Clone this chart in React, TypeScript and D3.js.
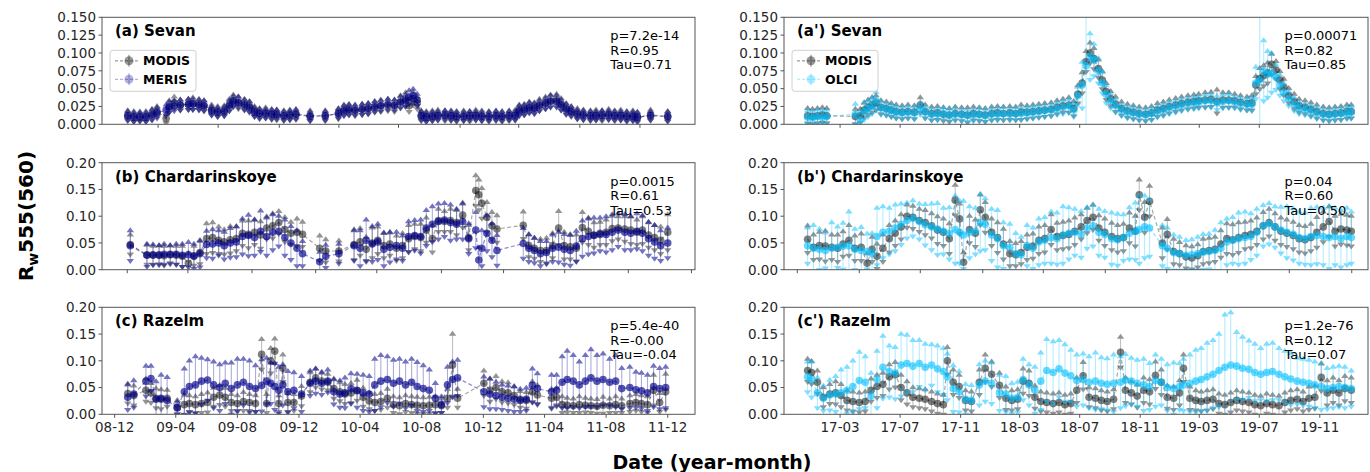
import React from "react";
import * as d3 from "d3";

type Row = [string, number, number, number, number]; // date, MODIS, other sensor, MODIS err, other err (x1e-3)

const sevanLeft: Row[] = [
["2008-12-27",12,12,5,4],["2009-01-08",11,10,5,4],["2009-01-20",10,11,4,4],["2009-02-01",11,10,5,4],
["2009-02-13",14,13,5,5],["2009-02-23",18,16,5,5],["2009-03-13",8,20,4,5],["2009-03-19",25,24,6,5],
["2009-03-29",30,26,6,5],["2009-04-10",27,27,5,5],["2009-04-26",28,28,5,5],["2009-05-05",29,28,6,5],
["2009-05-17",28,27,5,5],["2009-05-27",26,26,5,5],["2009-06-11",20,19,5,4],["2009-06-23",18,17,5,4],
["2009-07-06",19,18,5,4],["2009-07-16",27,26,6,5],["2009-07-24",33,32,6,5],["2009-08-03",30,31,6,5],
["2009-08-15",28,27,5,5],["2009-08-25",25,24,5,5],["2009-09-04",18,17,5,4],["2009-09-14",15,15,5,4],
["2009-09-26",16,15,5,4],["2009-10-08",14,14,5,4],["2009-10-18",13,14,5,4],["2009-11-01",12,12,5,4],
["2009-11-13",13,13,5,4],["2009-11-25",14,14,5,4],["2009-12-23",12,11,5,4],["2010-01-22",12,12,5,4],
["2010-02-17",15,15,5,4],["2010-02-28",20,19,5,5],["2010-03-10",21,20,5,5],["2010-03-22",19,20,5,5],
["2010-04-05",21,21,5,5],["2010-04-17",22,22,5,5],["2010-04-30",24,25,5,5],["2010-05-12",26,26,6,5],
["2010-05-26",27,28,6,5],["2010-06-08",26,27,6,5],["2010-06-20",32,31,6,6],["2010-06-30",35,33,7,6],
["2010-07-07",26,38,6,7],["2010-07-15",36,40,7,7],["2010-07-23",30,34,6,6],["2010-07-31",12,12,5,4],
["2010-08-10",11,10,5,4],["2010-08-22",12,11,5,4],["2010-09-02",13,12,5,4],["2010-09-16",12,13,5,4],
["2010-09-28",12,12,5,4],["2010-10-09",11,11,5,4],["2010-10-23",12,11,5,4],["2010-11-04",11,12,5,4],
["2010-11-16",13,12,5,4],["2010-11-28",12,11,5,4],["2010-12-12",11,11,5,4],["2010-12-26",12,12,5,4],
["2011-01-07",11,11,5,4],["2011-01-21",12,12,5,4],["2011-02-02",13,12,5,4],["2011-02-10",20,19,5,5],
["2011-02-20",21,20,5,5],["2011-03-02",24,23,5,5],["2011-03-12",23,22,5,5],["2011-03-22",27,26,6,5],
["2011-04-03",30,29,6,5],["2011-04-13",33,32,6,6],["2011-04-25",34,32,6,6],["2011-05-04",28,27,6,5],
["2011-05-14",22,21,5,5],["2011-05-24",18,18,5,4],["2011-06-05",15,14,5,4],["2011-06-17",13,13,5,4],
["2011-07-01",12,12,5,4],["2011-07-12",13,12,5,4],["2011-07-24",12,13,5,4],["2011-08-06",14,13,5,4],
["2011-08-18",12,12,5,4],["2011-08-30",13,12,5,4],["2011-09-11",11,11,5,4],["2011-09-23",12,11,5,4],
["2011-10-02",10,10,5,4],["2011-10-28",13,12,5,4],["2011-12-01",11,11,5,4]
];

const chardLeft: Row[] = [
["2009-01-01",47,45,15,25],["2009-02-03",28,27,15,18],["2009-02-15",27,28,14,16],["2009-02-27",28,27,14,15],
["2009-03-09",26,29,15,16],["2009-03-21",29,28,13,14],["2009-04-02",27,29,14,16],["2009-04-14",25,27,16,18],
["2009-04-26",12,28,16,20],["2009-05-07",26,25,15,20],["2009-05-19",32,30,18,22],["2009-06-01",58,47,25,22],
["2009-06-13",60,48,25,24],["2009-06-25",55,50,22,20],["2009-07-06",52,45,20,22],["2009-07-18",56,50,22,24],
["2009-07-30",58,52,20,25],["2009-08-11",68,62,20,30],["2009-08-23",66,64,22,35],["2009-09-04",70,60,20,30],
["2009-09-16",65,72,22,35],["2009-09-28",78,62,18,32],["2009-10-10",82,70,20,30],["2009-10-22",88,72,18,25],
["2009-11-03",75,60,20,30],["2009-11-15",68,50,18,28],["2009-11-27",70,40,22,30],["2009-12-08",66,30,20,20],
["2010-01-11",40,15,20,15],["2010-01-23",35,25,18,18],["2010-02-18",35,30,16,15],["2010-03-20",47,45,25,25],
["2010-04-01",52,40,22,30],["2010-04-13",38,55,20,35],["2010-04-25",50,48,25,30],["2010-05-06",55,52,22,30],
["2010-05-18",45,38,20,28],["2010-05-30",48,42,18,25],["2010-06-12",40,45,20,22],["2010-06-24",45,40,20,20],
["2010-07-06",58,62,22,25],["2010-07-18",62,64,20,25],["2010-07-30",60,62,22,28],["2010-08-10",74,78,20,30],
["2010-08-22",58,85,22,30],["2010-09-03",92,90,18,30],["2010-09-15",90,93,16,28],["2010-09-27",92,88,18,30],
["2010-10-09",88,85,20,25],["2010-10-21",102,90,20,30],["2010-11-02",60,58,20,25],["2010-11-16",148,74,25,30],
["2010-11-22",140,18,25,20],["2010-11-28",124,40,25,30],["2010-12-08",98,68,25,30],["2010-12-18",82,55,22,28],
["2010-12-28",76,36,22,25],["2011-02-18",83,49,22,25],["2011-03-01",45,40,18,22],["2011-03-12",40,36,16,20],
["2011-03-24",36,30,18,20],["2011-04-05",36,32,20,18],["2011-04-17",45,40,20,22],["2011-04-29",78,42,28,25],
["2011-05-10",45,38,22,25],["2011-05-22",43,36,20,25],["2011-06-03",40,44,22,25],["2011-06-15",79,58,25,30],
["2011-06-27",72,62,22,30],["2011-07-08",65,64,20,30],["2011-07-20",68,66,18,28],["2011-08-01",70,66,20,30],
["2011-08-13",77,70,20,30],["2011-08-25",78,74,18,28],["2011-09-07",76,70,20,30],["2011-09-19",74,68,22,28],
["2011-10-01",70,72,20,30],["2011-10-12",74,68,22,30],["2011-10-24",65,58,20,28],["2011-11-05",60,52,20,28],
["2011-11-17",55,45,22,25],["2011-12-01",70,50,30,25]
];

const razelmLeft: Row[] = [
["2008-12-27",39,32,15,20],["2009-01-08",35,38,15,22],["2009-02-01",45,62,18,25],["2009-02-11",40,67,15,20],
["2009-02-21",30,28,15,30],["2009-03-03",28,30,15,40],["2009-03-15",30,26,12,40],["2009-04-04",13,12,10,8],
["2009-04-18",18,42,15,40],["2009-04-28",20,52,12,45],["2009-05-10",18,55,12,50],["2009-05-22",20,62,14,40],
["2009-06-03",22,64,15,35],["2009-06-15",32,55,14,40],["2009-06-27",36,50,15,40],["2009-07-08",32,58,14,35],
["2009-07-20",22,48,12,45],["2009-08-01",20,55,12,45],["2009-08-13",24,60,14,40],["2009-08-25",22,52,12,45],
["2009-09-06",20,48,12,40],["2009-09-18",112,54,25,45],["2009-09-28",20,62,14,40],["2009-10-06",100,58,20,35],
["2009-10-14",118,52,20,40],["2009-10-22",20,45,12,40],["2009-10-30",86,55,22,35],["2009-11-09",22,42,14,35],
["2009-11-21",22,45,12,30],["2009-12-06",34,38,15,30],["2009-12-23",60,58,15,20],["2010-01-03",68,62,14,20],
["2010-01-15",62,58,12,18],["2010-01-27",60,62,12,18],["2010-02-08",48,42,15,20],["2010-02-20",42,38,14,22],
["2010-03-02",38,40,15,25],["2010-03-14",40,48,15,25],["2010-03-26",45,44,16,28],["2010-04-07",32,40,14,30],
["2010-04-19",25,38,12,30],["2010-04-30",22,55,12,45],["2010-05-12",24,62,12,45],["2010-05-25",30,65,14,40],
["2010-06-06",18,58,12,40],["2010-06-18",16,62,12,38],["2010-06-30",20,55,12,40],["2010-07-12",18,60,12,40],
["2010-07-23",17,52,12,42],["2010-08-04",16,48,12,40],["2010-08-16",17,45,12,35],["2010-08-28",18,30,12,25],
["2010-09-09",16,18,10,12],["2010-09-21",30,55,14,30],["2010-10-01",92,65,55,30],["2010-10-11",30,68,14,30],
["2010-12-02",58,42,20,25],["2010-12-14",45,38,18,25],["2010-12-26",50,35,18,22],["2011-01-07",42,32,16,20],
["2011-01-19",40,30,16,20],["2011-01-31",35,28,14,20],["2011-02-12",28,26,12,18],["2011-02-24",26,28,12,18],
["2011-03-08",42,54,16,28],["2011-03-18",36,48,15,25],["2011-04-15",30,42,14,28],["2011-04-25",32,45,14,25],
["2011-05-06",18,60,12,45],["2011-05-16",17,65,10,50],["2011-05-28",16,62,10,45],["2011-06-09",18,55,12,40],
["2011-06-21",17,62,10,45],["2011-07-02",16,68,10,50],["2011-07-14",15,62,10,45],["2011-07-26",17,65,12,45],
["2011-08-08",16,60,10,40],["2011-08-20",18,62,12,45],["2011-09-01",16,48,10,35],["2011-09-17",20,50,12,35],
["2011-09-29",22,46,12,30],["2011-10-10",20,44,12,30],["2011-10-22",18,40,12,30],["2011-11-03",45,52,25,35],
["2011-11-15",22,48,14,35],["2011-11-27",42,50,30,35]
];

const sevanRight: Row[] = [
["2016-12-25",12,10,8,7],["2017-01-04",11,9,8,7],["2017-01-14",12,11,8,7],["2017-01-24",13,10,8,7],
["2017-02-02",12,11,8,7],["2017-04-01",11,14,8,12],["2017-04-11",12,6,7,9],["2017-04-19",20,18,8,9],
["2017-04-27",24,22,8,9],["2017-05-05",27,26,8,9],["2017-05-13",30,33,8,10],["2017-05-23",24,23,7,7],
["2017-06-03",22,21,7,6],["2017-06-13",20,19,7,6],["2017-06-23",18,17,7,6],["2017-07-05",17,16,7,6],
["2017-07-17",18,17,7,6],["2017-07-30",17,16,7,6],["2017-08-11",27,22,8,6],["2017-08-21",18,17,7,6],
["2017-09-03",15,14,7,6],["2017-09-15",16,14,7,6],["2017-09-27",14,15,7,6],["2017-10-09",13,13,7,6],
["2017-10-21",15,14,7,6],["2017-11-03",14,13,7,6],["2017-11-15",13,12,8,6],["2017-11-27",15,13,7,6],
["2017-12-09",14,14,7,6],["2017-12-21",13,12,7,6],["2018-01-03",15,14,7,6],["2018-01-15",16,14,7,6],
["2018-01-27",15,15,7,6],["2018-02-09",16,14,7,6],["2018-02-21",15,15,7,6],["2018-03-04",17,15,8,6],
["2018-03-16",17,16,7,6],["2018-03-28",18,17,7,6],["2018-04-09",19,18,7,6],["2018-04-21",20,19,7,6],
["2018-05-04",21,20,7,6],["2018-05-16",24,22,7,6],["2018-05-28",26,24,7,7],["2018-06-09",27,26,8,7],
["2018-06-19",22,20,8,7],["2018-06-27",42,40,10,10],["2018-07-06",58,55,12,30],["2018-07-14",88,82,12,90],
["2018-07-22",100,95,12,30],["2018-07-30",92,90,12,20],["2018-08-08",78,75,10,15],["2018-08-16",62,58,10,12],
["2018-08-24",46,42,9,10],["2018-09-02",36,33,8,8],["2018-09-12",28,26,8,7],["2018-09-24",22,20,7,6],
["2018-10-06",19,17,7,6],["2018-10-18",17,16,7,6],["2018-10-30",15,14,7,6],["2018-11-12",14,13,7,6],
["2018-11-24",16,15,7,6],["2018-12-06",20,18,7,6],["2018-12-18",22,20,7,6],["2018-12-30",25,23,7,6],
["2019-01-12",27,25,7,6],["2019-01-24",29,27,7,6],["2019-02-06",31,29,7,6],["2019-02-18",32,30,7,6],
["2019-02-28",33,31,7,6],["2019-03-13",34,33,8,6],["2019-03-25",35,33,8,7],["2019-04-06",32,30,14,7],
["2019-04-18",34,32,8,7],["2019-04-30",34,33,8,7],["2019-05-12",33,31,7,6],["2019-05-24",31,29,7,6],
["2019-06-06",29,28,7,6],["2019-06-16",30,28,8,7],["2019-06-24",55,58,10,20],["2019-07-02",64,62,12,90],
["2019-07-10",68,75,12,40],["2019-07-18",72,70,12,30],["2019-07-26",84,72,12,25],["2019-08-04",76,66,10,15],
["2019-08-12",62,55,10,12],["2019-08-20",52,45,9,10],["2019-08-30",40,36,8,8],["2019-09-10",32,28,8,7],
["2019-09-20",26,23,7,6],["2019-10-02",24,21,7,6],["2019-10-14",21,19,7,6],["2019-10-26",18,16,7,6],
["2019-11-08",15,14,7,6],["2019-11-20",14,13,7,6],["2019-12-02",15,14,7,6],["2019-12-14",16,15,7,6],
["2019-12-26",18,16,7,6],["2020-01-04",18,17,7,6]
];

const chardRight: Row[] = [
["2016-12-25",57,45,22,30],["2017-01-06",42,40,20,40],["2017-01-18",45,38,22,35],["2017-01-30",44,36,25,30],
["2017-02-12",42,40,20,45],["2017-02-24",40,42,22,35],["2017-03-07",48,44,20,40],["2017-03-19",55,45,25,60],
["2017-03-31",40,38,20,35],["2017-04-13",42,36,22,40],["2017-04-25",12,34,15,30],["2017-05-05",38,30,20,35],
["2017-05-15",25,62,20,50],["2017-05-27",40,70,22,45],["2017-06-09",58,72,22,40],["2017-06-21",68,78,20,40],
["2017-07-03",80,85,20,35],["2017-07-15",100,92,18,30],["2017-07-27",98,96,18,30],["2017-08-09",92,90,18,30],
["2017-08-21",88,84,20,35],["2017-09-03",82,80,20,40],["2017-09-15",74,76,22,45],["2017-09-27",70,72,22,40],
["2017-10-09",58,68,25,45],["2017-10-21",130,75,25,60],["2017-10-30",95,70,25,55],["2017-11-07",14,65,15,60],
["2017-11-19",75,70,22,45],["2017-12-01",68,72,22,40],["2017-12-11",112,88,25,50],["2017-12-21",98,85,25,45],
["2018-01-03",70,65,22,45],["2018-01-15",60,58,25,50],["2018-01-27",48,45,25,40],["2018-02-09",30,42,20,40],
["2018-02-21",28,30,18,35],["2018-03-04",32,28,18,30],["2018-03-16",42,45,20,35],["2018-03-28",44,40,20,35],
["2018-04-09",55,52,22,40],["2018-04-21",58,55,22,40],["2018-05-04",75,60,25,45],["2018-05-16",62,58,22,45],
["2018-05-28",64,65,22,50],["2018-06-09",66,68,22,45],["2018-06-21",72,70,22,40],["2018-07-04",80,66,20,40],
["2018-07-16",92,78,20,35],["2018-07-28",98,82,20,35],["2018-08-09",78,70,20,40],["2018-08-21",70,66,22,40],
["2018-09-04",62,58,22,45],["2018-09-16",58,56,22,45],["2018-09-28",60,60,22,40],["2018-10-10",78,68,25,45],
["2018-10-22",72,72,25,50],["2018-10-30",140,75,25,60],["2018-11-10",98,80,25,55],["2018-11-20",128,78,25,50],
["2018-12-16",50,45,25,35],["2018-12-26",66,40,25,35],["2019-01-08",34,32,20,30],["2019-01-20",30,30,18,28],
["2019-02-02",24,27,18,25],["2019-02-14",22,28,18,25],["2019-02-26",26,30,18,28],["2019-03-09",34,33,20,30],
["2019-03-21",36,34,20,30],["2019-04-02",38,36,20,35],["2019-04-14",48,40,22,45],["2019-04-26",58,52,25,40],
["2019-05-08",56,55,25,40],["2019-05-20",60,58,25,45],["2019-06-02",64,60,22,45],["2019-06-14",66,62,22,40],
["2019-06-26",72,70,22,40],["2019-07-09",82,82,22,35],["2019-07-21",88,86,22,35],["2019-08-02",80,80,22,35],
["2019-08-14",72,74,22,40],["2019-08-26",68,70,22,45],["2019-09-08",64,66,22,45],["2019-09-20",58,60,22,45],
["2019-10-02",56,58,22,45],["2019-10-14",60,62,22,50],["2019-10-26",70,64,25,50],["2019-11-08",80,62,25,50],
["2019-11-20",90,60,25,55],["2019-12-02",72,62,25,50],["2019-12-14",76,58,25,50],["2019-12-26",74,62,25,50],
["2020-01-04",72,60,25,45]
];

const razelmRight: Row[] = [
["2016-12-25",82,70,18,25],["2017-01-02",78,65,18,30],["2017-01-14",60,40,18,25],["2017-01-26",32,30,15,20],
["2017-02-08",38,36,15,25],["2017-02-20",40,38,18,30],["2017-03-03",35,40,18,40],["2017-03-15",26,45,15,40],
["2017-03-27",24,52,15,45],["2017-04-09",22,63,15,50],["2017-04-21",24,60,15,45],["2017-05-03",45,34,18,40],
["2017-05-15",52,65,18,50],["2017-05-27",56,88,18,55],["2017-06-09",70,80,20,45],["2017-06-21",74,77,20,45],
["2017-07-03",50,92,20,55],["2017-07-15",40,95,18,50],["2017-07-27",32,90,15,45],["2017-08-09",30,95,15,40],
["2017-08-21",28,88,15,40],["2017-09-03",24,92,15,35],["2017-09-15",20,85,15,40],["2017-09-27",18,80,15,40],
["2017-10-05",100,70,22,40],["2017-10-17",60,48,20,40],["2017-10-29",52,42,18,35],["2017-11-11",26,28,15,25],
["2017-11-23",24,26,15,25],["2017-12-09",60,55,20,35],["2017-12-21",86,62,22,35],["2018-01-03",75,58,20,35],
["2018-01-19",54,40,20,30],["2018-02-01",30,38,18,30],["2018-02-13",26,30,15,25],["2018-02-25",28,32,15,25],
["2018-03-08",62,65,20,35],["2018-03-20",58,55,20,35],["2018-04-01",32,45,18,40],["2018-04-13",24,62,15,50],
["2018-04-25",22,82,15,55],["2018-05-08",20,78,15,55],["2018-05-20",22,85,15,50],["2018-06-01",18,77,15,50],
["2018-06-13",20,72,15,45],["2018-06-25",45,63,20,45],["2018-07-08",72,65,22,45],["2018-07-20",32,60,15,45],
["2018-08-02",30,62,15,50],["2018-08-14",26,58,15,45],["2018-08-26",24,56,15,45],["2018-09-08",28,58,15,50],
["2018-09-22",116,60,25,45],["2018-10-02",45,64,20,45],["2018-10-14",40,62,18,40],["2018-10-26",34,58,18,40],
["2018-11-08",45,55,20,45],["2018-11-20",42,52,20,40],["2018-12-02",73,63,22,45],["2018-12-14",60,60,20,40],
["2018-12-26",32,50,18,40],["2019-01-08",30,48,18,45],["2019-01-20",40,52,20,40],["2019-01-28",86,55,22,45],
["2019-02-10",30,58,18,50],["2019-02-22",26,62,15,55],["2019-03-05",24,65,15,55],["2019-03-17",26,70,15,60],
["2019-03-29",28,75,15,60],["2019-04-10",20,82,15,65],["2019-04-22",18,88,15,95],["2019-05-04",22,92,15,95],
["2019-05-16",26,90,15,60],["2019-05-28",24,86,15,55],["2019-06-10",22,84,15,50],["2019-06-22",18,78,15,50],
["2019-07-04",16,75,15,45],["2019-07-16",20,78,15,50],["2019-07-28",18,80,15,50],["2019-08-10",16,75,15,45],
["2019-08-22",22,70,15,45],["2019-09-03",26,66,15,45],["2019-09-16",28,62,15,40],["2019-09-28",24,60,15,40],
["2019-10-10",30,58,18,40],["2019-10-22",32,55,18,40],["2019-11-04",69,52,22,40],["2019-11-16",40,48,20,35],
["2019-11-28",45,50,20,35],["2019-12-10",40,52,20,35],["2019-12-22",48,50,20,35],["2020-01-04",45,48,20,30]
];

const leftLabelTicks = ["2008-12-01","2009-04-01","2009-08-01","2009-12-01","2010-04-01","2010-08-01","2010-12-01","2011-04-01","2011-08-01","2011-12-01"];
const leftTicksA = ["2009-02-25","2009-06-24","2009-10-23","2010-02-18","2010-06-16","2010-10-16","2011-02-09","2011-06-10","2011-10-07"];
const leftTicksB = ["2008-12-26","2009-04-25","2009-08-30","2010-01-03","2010-05-04","2010-09-09","2011-01-10","2011-05-11","2011-09-14","2012-01-17"];
const rightLabelTicks = ["2017-03-01","2017-07-01","2017-11-01","2018-03-01","2018-07-01","2018-11-01","2019-03-01","2019-07-01","2019-11-01"];
const rightTicksB = ["2016-12-04","2017-04-09","2017-08-11","2017-12-16","2018-04-18","2018-08-22","2018-12-25","2019-04-27","2019-08-31","2020-01-05"];

const yTicksSevan = [0, 0.025, 0.05, 0.075, 0.1, 0.125, 0.15];
const yTicksOther = [0, 0.05, 0.1, 0.15, 0.2];

const statsA = ["p=7.2e-14", "R=0.95", "Tau=0.71"];
const statsB = ["p=0.0015", "R=0.61", "Tau=0.53"];
const statsC = ["p=5.4e-40", "R=-0.00", "Tau=-0.04"];
const statsA2 = ["p=0.00071", "R=0.82", "Tau=0.85"];
const statsB2 = ["p=0.04", "R=0.60", "Tau=0.50"];
const statsC2 = ["p=1.2e-76", "R=0.12", "Tau=0.07"];

const COLORS: Record<string, string> = { MODIS: "#000000", MERIS: "#00008b", OLCI: "#00bfff" };
const ALPHA: Record<string, number> = { MODIS: 0.5, MERIS: 0.65, OLCI: 0.6 };

const parseDate = d3.timeParse("%Y-%m-%d") as (s: string) => Date;
const fmtTick = d3.timeFormat("%y-%m");
const FONT = "DejaVu Sans, Verdana, sans-serif";

const COLS = [
  { x0: 102, x1: 695, domain: ["2008-11-06", "2012-01-24"] },
  { x0: 784, x1: 1368, domain: ["2016-11-07", "2020-02-07"] },
];
const TOPS = [17.3, 162.7, 307.3];
const H = 107;

type PanelCfg = {
  key: string; title: string; rows: Row[]; col: number; row: number; yMax: number;
  yTicks: number[]; ticks: string[]; showLabels: boolean; stats: string[]; other: string;
};

const panels: PanelCfg[] = [
  { key: "a", title: "(a) Sevan", rows: sevanLeft, col: 0, row: 0, yMax: 0.15, yTicks: yTicksSevan, ticks: leftTicksA, showLabels: false, stats: statsA, other: "MERIS" },
  { key: "b", title: "(b) Chardarinskoye", rows: chardLeft, col: 0, row: 1, yMax: 0.2, yTicks: yTicksOther, ticks: leftTicksB, showLabels: false, stats: statsB, other: "MERIS" },
  { key: "c", title: "(c) Razelm", rows: razelmLeft, col: 0, row: 2, yMax: 0.2, yTicks: yTicksOther, ticks: leftLabelTicks, showLabels: true, stats: statsC, other: "MERIS" },
  { key: "a2", title: "(a') Sevan", rows: sevanRight, col: 1, row: 0, yMax: 0.15, yTicks: yTicksSevan, ticks: rightLabelTicks, showLabels: false, stats: statsA2, other: "OLCI" },
  { key: "b2", title: "(b') Chardarinskoye", rows: chardRight, col: 1, row: 1, yMax: 0.2, yTicks: yTicksOther, ticks: rightTicksB, showLabels: false, stats: statsB2, other: "OLCI" },
  { key: "c2", title: "(c') Razelm", rows: razelmRight, col: 1, row: 2, yMax: 0.2, yTicks: yTicksOther, ticks: rightLabelTicks, showLabels: true, stats: statsC2, other: "OLCI" },
];

function Series({ rows, vi, ei, x, y, name }: { rows: Row[]; vi: number; ei: number; x: any; y: any; name: string }) {
  const color = COLORS[name];
  const a = ALPHA[name];
  const pts = rows.map((r) => ({ t: parseDate(r[0]), v: r[vi] / 1000, e: r[ei] / 1000 }));
  const line = d3.line<{ t: Date; v: number }>().x((d) => x(d.t)).y((d) => y(d.v));
  return (
    <g>
      <path d={line(pts) || ""} fill="none" stroke={color} strokeOpacity={a * 0.7} strokeWidth={1.2} strokeDasharray="4,2.5" />
      {pts.map((p, i) => {
        const cx = x(p.t), cy = y(p.v), yt = y(p.v + p.e), yb = y(p.v - p.e);
        return (
          <g key={i}>
            <line x1={cx} x2={cx} y1={yt} y2={yb} stroke={color} strokeOpacity={a * 0.5} strokeWidth={1.1} />
            <path d={`M${cx - 3.7},${yt}L${cx + 3.7},${yt}L${cx},${yt - 5}Z`} fill={color} fillOpacity={a * 0.85} />
            <path d={`M${cx - 3.7},${yb}L${cx + 3.7},${yb}L${cx},${yb + 5}Z`} fill={color} fillOpacity={a * 0.85} />
            <circle cx={cx} cy={cy} r={3.8} fill={color} fillOpacity={a} />
          </g>
        );
      })}
    </g>
  );
}

function Legend({ x0, y0, other }: { x0: number; y0: number; other: string }) {
  const items = ["MODIS", other];
  return (
    <g>
      <rect x={x0} y={y0} width={86} height={41} rx={3} fill="#ffffff" fillOpacity={0.8} stroke="#d0d0d0" strokeWidth={1} />
      {items.map((n, i) => {
        const cy = y0 + 10.5 + i * 18.5;
        const c = COLORS[n];
        const a = n === "MODIS" ? 0.4 : 0.3;
        return (
          <g key={n}>
            <line x1={x0 + 5} x2={x0 + 28} y1={cy} y2={cy} stroke={c} strokeOpacity={a} strokeWidth={1.2} strokeDasharray="3,2" />
            <line x1={x0 + 19} x2={x0 + 19} y1={cy - 6} y2={cy + 6} stroke={c} strokeOpacity={a} strokeWidth={1.2} />
            <circle cx={x0 + 19} cy={cy} r={4.5} fill={c} fillOpacity={a} />
            <text x={x0 + 33} y={cy + 4.5} fontFamily={FONT} fontSize={12.5} fontWeight="bold" fill="#000">{n}</text>
          </g>
        );
      })}
    </g>
  );
}

function Panel({ cfg }: { cfg: PanelCfg }) {
  const g = COLS[cfg.col];
  const top = TOPS[cfg.row];
  const bottom = top + H;
  const x = d3.scaleTime().domain(g.domain.map(parseDate)).range([g.x0, g.x1]);
  const y = d3.scaleLinear().domain([0, cfg.yMax]).range([bottom, top]);
  const yFmt = d3.format(cfg.yMax < 0.18 ? ".3f" : ".2f");
  const clipId = `clip-${cfg.key}`;
  const statX = g.x0 + 0.857 * (g.x1 - g.x0);
  return (
    <g>
      <defs>
        <clipPath id={clipId}>
          <rect x={g.x0} y={top} width={g.x1 - g.x0} height={H} />
        </clipPath>
      </defs>
      <g clipPath={`url(#${clipId})`}>
        <Series rows={cfg.rows} vi={1} ei={3} x={x} y={y} name="MODIS" />
        <Series rows={cfg.rows} vi={2} ei={4} x={x} y={y} name={cfg.other} />
      </g>
      <rect x={g.x0} y={top} width={g.x1 - g.x0} height={H} fill="none" stroke="#555" strokeWidth={1} />
      {cfg.yTicks.map((t) => (
        <g key={t}>
          <line x1={g.x0 - 3.5} x2={g.x0} y1={y(t)} y2={y(t)} stroke="#555" strokeWidth={1} />
          <text x={g.x0 - 6} y={y(t) + 4.8} textAnchor="end" fontFamily={FONT} fontSize={13.5} fill="#262626">{yFmt(t)}</text>
        </g>
      ))}
      {cfg.ticks.map((s) => {
        const tx = x(parseDate(s));
        return (
          <g key={s}>
            <line x1={tx} x2={tx} y1={bottom} y2={bottom + 3.5} stroke="#555" strokeWidth={1} />
            {cfg.showLabels && (
              <text x={tx} y={bottom + 17.4} textAnchor="middle" fontFamily={FONT} fontSize={13.5} fill="#262626">{fmtTick(parseDate(s))}</text>
            )}
          </g>
        );
      })}
      <text x={g.x0 + 13} y={top + 19} fontFamily={FONT} fontSize={15} fontWeight="bold" fill="#000">{cfg.title}</text>
      {cfg.stats.map((s, i) => (
        <text key={s} x={statX} y={top + 23 + i * 14.5} fontFamily={FONT} fontSize={13} fill="#000">{s}</text>
      ))}
      {cfg.row === 0 && <Legend x0={g.x0 + 8} y0={top + 33} other={cfg.other} />}
    </g>
  );
}

export default function App() {
  return (
    <svg width={1370} height={472} style={{ position: "absolute", left: 0, top: 0, background: "#fff" }}>
      <rect x={0} y={0} width={1370} height={472} fill="#fff" />
      {panels.map((p) => (
        <Panel key={p.key} cfg={p} />
      ))}
      <text transform="translate(33,216) rotate(-90)" textAnchor="middle" fontFamily={FONT} fontSize={20} fontWeight="bold" fill="#000">
        R<tspan fontSize={14} dy={5}>w</tspan><tspan dy={-5}>555(560)</tspan>
      </text>
      <text x={712} y={469} textAnchor="middle" fontFamily={FONT} fontSize={19} fontWeight="bold" fill="#000">Date (year-month)</text>
    </svg>
  );
}
